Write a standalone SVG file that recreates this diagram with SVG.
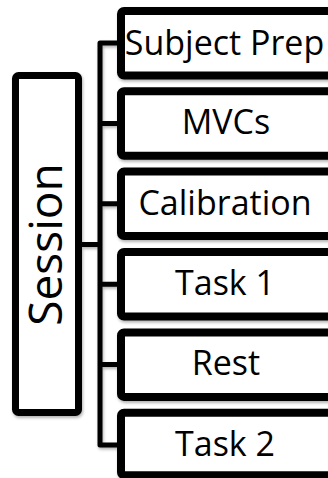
<svg xmlns="http://www.w3.org/2000/svg" width="328" height="478" viewBox="0 0 328 478">
<style>
.box{fill:#fff;stroke:#000;stroke-width:8;filter:url(#sh)}
.lbl{font-family:"Open Sans","Noto Sans",sans-serif;font-size:34px;fill:#000;text-anchor:middle}
.conn{fill:none;stroke:#000;stroke-width:5;stroke-linejoin:round;filter:url(#sh)}
</style>
<defs>
<filter id="sh" x="-20%" y="-20%" width="140%" height="140%">
<feDropShadow dx="1" dy="2" stdDeviation="1.5" flood-color="#000" flood-opacity="0.3"/>
</filter>
</defs>
<rect width="328" height="478" fill="#fff"/>
<g id="connectors">
<path class="conn" d="M82 244.5H100M117 43H100V445H117M100 123.4H117M100 203.8H117M100 284.2H117M100 364.6H117"/>
</g>
<g id="session">
<rect x="15.5" y="75.5" width="63" height="337" rx="3" fill="#fff" stroke="#000" stroke-width="7" filter="url(#sh)"/>
<text transform="translate(62,244.5) rotate(-90)" font-family="'Open Sans','Noto Sans',sans-serif" font-size="46" text-anchor="middle">Session</text>
</g>
<g id="subject-prep">
<rect class="box" x="121" y="11" width="220" height="64.5" rx="3"/>
<text class="lbl" x="224.5" y="55">Subject Prep</text>
</g>
<g id="mvcs">
<rect class="box" x="121" y="91.2" width="220" height="64.5" rx="3"/>
<text class="lbl" x="226" y="133.5">MVCs</text>
</g>
<g id="calibration">
<rect class="box" x="121" y="171.6" width="220" height="64.5" rx="3"/>
<text class="lbl" x="225" y="214.5">Calibration</text>
</g>
<g id="task1">
<rect class="box" x="121" y="252" width="220" height="64.5" rx="3"/>
<text class="lbl" x="225" y="294.5">Task 1</text>
</g>
<g id="rest">
<rect class="box" x="121" y="332.4" width="220" height="64.5" rx="3"/>
<text class="lbl" x="226" y="375">Rest</text>
</g>
<g id="task2">
<rect class="box" x="121" y="412.8" width="220" height="62.5" rx="3"/>
<text class="lbl" x="225" y="455.5">Task 2</text>
</g>
</svg>
